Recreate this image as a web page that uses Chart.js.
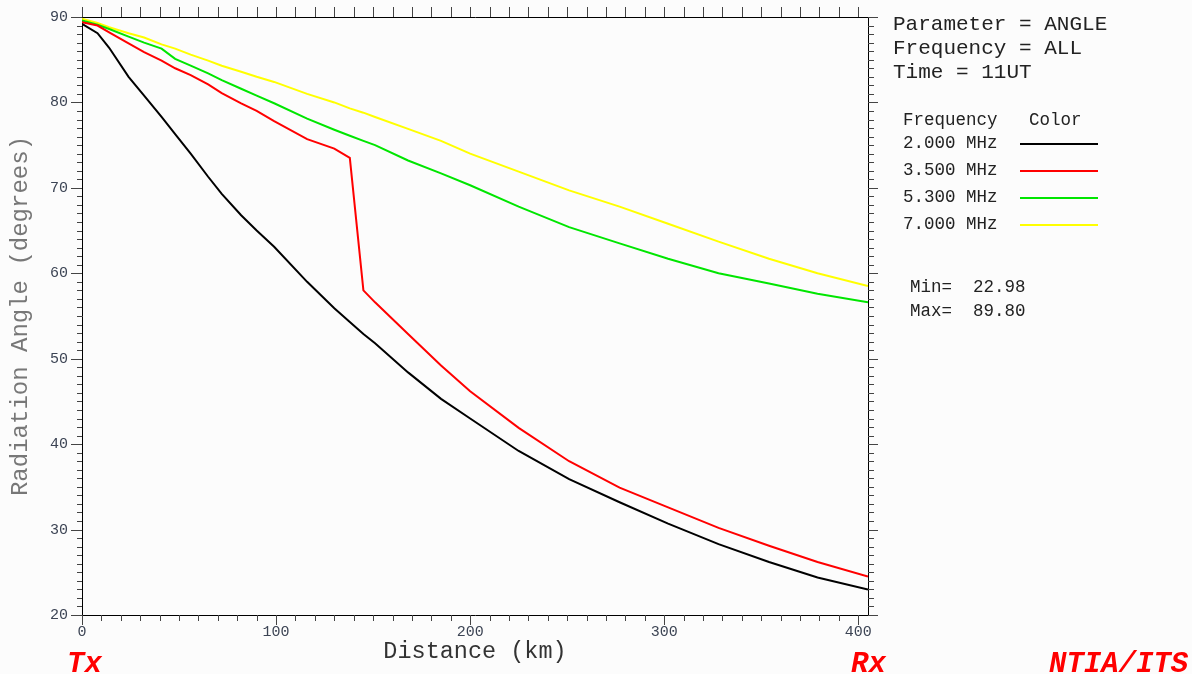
<!DOCTYPE html>
<html>
<head>
<meta charset="utf-8">
<script src="https://cdn.jsdelivr.net/npm/chart.js@4"></script>
<style>
  body { margin: 0; background: #fcfcfc; }
  #wrap { position: relative; width: 1192px; height: 674px; font-family: "Liberation Mono", monospace; }
  .txt { position: absolute; white-space: pre; line-height: 1; transform: translateY(-50%); }
  .info { font-size: 21px; color: #222; left: 893px; }
  .leg { font-size: 17.5px; color: #222; }
  .swatch { position: absolute; left: 1020px; width: 78px; height: 2px; }
  .mark { font-size: 29px; font-weight: bold; font-style: italic; color: #ff0000; }
</style>
</head>
<body>
<div id="wrap">
  <canvas id="chart" width="1192" height="674"></canvas>
</div>
<script>
// distances along the path (km)
const distKm = [0, 8, 14, 24, 32, 41, 48, 56, 65, 72, 82, 90, 99, 116, 130, 138, 145, 151, 168, 185, 200, 225, 251, 277, 302, 328, 354, 379, 405];

// radiation angle (degrees) per frequency
const angle2000 = [89.2, 88.1, 86.4, 83.0, 80.8, 78.3, 76.3, 74.0, 71.3, 69.3, 66.8, 65.0, 63.1, 59.0, 55.9, 54.3, 52.9, 51.8, 48.4, 45.3, 43.0, 39.2, 35.9, 33.2, 30.7, 28.3, 26.2, 24.4, 22.98];
const angle3500 = [89.4, 89.0, 88.2, 86.9, 85.9, 84.9, 84.0, 83.2, 82.1, 81.1, 79.9, 79.0, 77.8, 75.7, 74.6, 73.5, 58.0, 56.6, 52.9, 49.2, 46.2, 41.9, 38.0, 34.9, 32.6, 30.2, 28.1, 26.2, 24.5];
const angle5300 = [89.6, 89.1, 88.6, 87.7, 87.0, 86.3, 85.1, 84.3, 83.4, 82.6, 81.6, 80.8, 79.9, 78.1, 76.8, 76.1, 75.5, 75.0, 73.2, 71.7, 70.3, 67.8, 65.4, 63.5, 61.7, 60.0, 58.8, 57.6, 56.6];
const angle7000 = [89.8, 89.3, 88.8, 88.1, 87.6, 86.8, 86.3, 85.6, 84.9, 84.3, 83.6, 83.0, 82.4, 81.0, 80.0, 79.3, 78.8, 78.3, 76.9, 75.5, 74.0, 71.9, 69.7, 67.8, 65.8, 63.7, 61.7, 60.0, 58.5];

const freqLabels = ["2.000 MHz", "3.500 MHz", "5.300 MHz", "7.000 MHz"];
const freqColors = ["#000000", "#ff0000", "#00e600", "#ffff00"];
const yTicks = [20, 30, 40, 50, 60, 70, 80, 90];
const xTicks = [0, 100, 200, 300, 400];

const distMin = 0, distMax = 405;
const angMin = 20, angMax = 90;

const series = [angle2000, angle3500, angle5300, angle7000];

const datasets = series.map((vals, i) => ({
    label: freqLabels[i],
    data: vals.map((v, j) => ({ x: distKm[j], y: v })),
    borderColor: freqColors[i],
    borderWidth: 2,
    pointRadius: 0,
    tension: 0,
    fill: false,
}));

// tick marks on all four sides of the frame
const frameTicks = {
    id: 'frameTicks',
    afterDatasetsDraw(chart) {
        const { ctx, chartArea: a, scales } = chart;
        ctx.save();
        ctx.strokeStyle = '#444';
        ctx.lineWidth = 1;
        ctx.beginPath();
        for (let v = distMin; v <= distMax; v += 10) {
            const px = Math.round(scales.x.getPixelForValue(v)) + 0.5;
            const major = v % 100 === 0;
            ctx.moveTo(px, a.bottom);
            ctx.lineTo(px, a.bottom + (major ? 10 : 6));
            ctx.moveTo(px, a.top);
            ctx.lineTo(px, a.top - 10);
        }
        for (let v = angMin; v <= angMax; v += 1) {
            const py = Math.round(scales.y.getPixelForValue(v)) + 0.5;
            const major = v % 10 === 0;
            ctx.moveTo(a.left, py);
            ctx.lineTo(a.left - (major ? 11 : 5), py);
            ctx.moveTo(a.right, py);
            ctx.lineTo(a.right + (major ? 10 : 6), py);
        }
        ctx.stroke();
        ctx.restore();
    }
};

const tickFont = { family: 'Liberation Mono', size: 15 };
const tickColor = '#3c4454';

// fixed box sizes so the plot frame sits where the original has it
function fixHeight(h) {
    return s => { s.height = h; s.paddingLeft = 0; s.paddingRight = 0; };
}
function fixWidth(w) {
    return s => { s.width = w; s.paddingTop = 0; s.paddingBottom = 0; };
}

new Chart(document.getElementById('chart'), {
    type: 'line',
    data: { datasets },
    plugins: [frameTicks],
    options: {
        responsive: false,
        animation: false,
        layout: { padding: 0 },
        plugins: {
            legend: { display: false },
            tooltip: { enabled: false },
        },
        scales: {
            x: {
                type: 'linear',
                position: 'bottom',
                min: distMin,
                max: distMax,
                afterFit: fixHeight(59),
                afterBuildTicks: s => { s.ticks = xTicks.map(v => ({ value: v })); },
                grid: { display: false, drawTicks: false },
                border: { display: true, color: '#000', width: 1 },
                ticks: { color: tickColor, font: tickFont, padding: 8, maxRotation: 0 },
                title: {
                    display: true,
                    text: 'Distance (km)',
                    color: '#333',
                    font: { family: 'Liberation Mono', size: 23.5 },
                    padding: { top: 0, bottom: 8 },
                },
            },
            x2: {
                type: 'linear',
                position: 'top',
                min: distMin,
                max: distMax,
                afterFit: fixHeight(17),
                grid: { display: false, drawTicks: false },
                border: { display: true, color: '#000', width: 1 },
                ticks: { display: false },
            },
            y: {
                type: 'linear',
                position: 'left',
                min: angMin,
                max: angMax,
                afterFit: fixWidth(82),
                afterBuildTicks: s => { s.ticks = yTicks.map(v => ({ value: v })); },
                grid: { display: false, drawTicks: false },
                border: { display: true, color: '#000', width: 1 },
                ticks: { color: tickColor, font: tickFont, padding: 14 },
                title: {
                    display: true,
                    text: 'Radiation Angle (degrees)',
                    color: '#777',
                    font: { family: 'Liberation Mono', size: 24 },
                    padding: { top: 6, bottom: 0 },
                },
            },
            y2: {
                type: 'linear',
                position: 'right',
                min: angMin,
                max: angMax,
                afterFit: fixWidth(324),
                grid: { display: false, drawTicks: false },
                border: { display: true, color: '#000', width: 1 },
                ticks: { display: false },
            },
        },
    },
});

// side panel text and legend, built from the same arrays
const wrap = document.getElementById('wrap');
function addText(cls, text, left, top) {
    const d = document.createElement('div');
    d.className = 'txt ' + cls;
    d.textContent = text;
    d.style.left = left + 'px';
    d.style.top = top + 'px';
    wrap.appendChild(d);
}

addText('info', 'Parameter = ANGLE', 893, 24);
addText('info', 'Frequency = ALL', 893, 48);
addText('info', 'Time = 11UT', 893, 72);

addText('leg', 'Frequency   Color', 903, 121);
const legendRowY = [144, 171, 198, 225];
freqLabels.forEach((lab, i) => {
    addText('leg', lab, 903, legendRowY[i]);
    const sw = document.createElement('div');
    sw.className = 'swatch';
    sw.style.top = (legendRowY[i] - 1) + 'px';
    sw.style.background = freqColors[i];
    wrap.appendChild(sw);
});

const allVals = series.flat();
addText('leg', 'Min=  ' + Math.min(...allVals).toFixed(2), 910, 288);
addText('leg', 'Max=  ' + Math.max(...allVals).toFixed(2), 910, 312);

addText('mark', 'Tx', 67, 664);
addText('mark', 'Rx', 851, 664);
addText('mark', 'NTIA/ITS', 1049, 664);
</script>
</body>
</html>
